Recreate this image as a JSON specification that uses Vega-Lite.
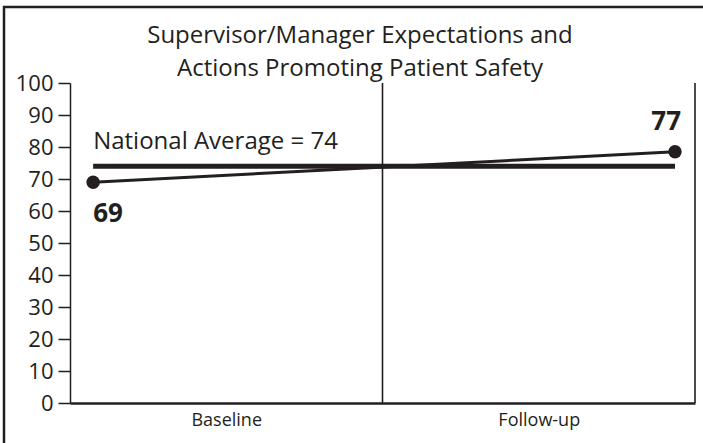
{
  "$schema": "https://vega.github.io/schema/vega-lite/v6.json",
  "width": 704,
  "height": 443,
  "autosize": {"type": "none"},
  "padding": {"left": 4, "top": 7, "right": -5, "bottom": -7},
  "background": "white",
  "config": {
    "view": {"stroke": "#231f20", "strokeWidth": 2.5},
    "font": "Open Sans",
    "text": {"font": "Open Sans", "color": "#231f20"}
  },
  "title": {
    "text": ["Supervisor/Manager Expectations and", "Actions Promoting Patient Safety"],
    "fontSize": 24,
    "fontWeight": "normal",
    "font": "Open Sans",
    "color": "#231f20",
    "lineHeight": 33,
    "anchor": "middle",
    "frame": "group",
    "dx": 4,
    "offset": -74
  },
  "datasets": {
    "rules": [
      {"x": 1, "y": 0, "y2": 100},
      {"x": 2, "y": 0, "y2": 100}
    ],
    "national": [
      {"x": 0.074, "y": 74, "label": "National Average = 74"},
      {"x": 1.936, "y": 74, "label": "National Average = 74"}
    ],
    "scores": [
      {"x": 0.074, "y": 69, "label": "69", "period": "Baseline"},
      {"x": 1.936, "y": 78.5, "label": "77", "period": "Follow-up"}
    ]
  },
  "layer": [
    {
      "data": {"name": "rules"},
      "mark": {"type": "rule", "color": "#231f20", "strokeWidth": 1.6},
      "encoding": {
        "x": {
          "field": "x", "type": "quantitative", "title": null,
          "scale": {"domain": [0, 2], "range": [66, 691]},
          "axis": {
            "orient": "bottom", "offset": -47, "values": [0.5, 1.5],
            "labelExpr": "datum.value < 1 ? 'Baseline' : 'Follow-up'",
            "ticks": false, "grid": false,
            "domainColor": "#231f20", "domainWidth": 2.5,
            "labelFont": "Open Sans", "labelFontSize": 18, "labelColor": "#231f20",
            "labelPadding": 8
          }
        },
        "y": {
          "field": "y", "type": "quantitative", "title": null,
          "scale": {"domain": [0, 100], "range": [396, 76]},
          "axis": {
            "orient": "left", "offset": -66,
            "values": [0, 10, 20, 30, 40, 50, 60, 70, 80, 90, 100],
            "grid": false, "tickSize": 12, "tickWidth": 1.5, "tickColor": "#231f20",
            "domainColor": "#231f20", "domainWidth": 1.5,
            "labelFont": "Open Sans", "labelFontSize": 22, "labelColor": "#231f20",
            "labelPadding": 5
          }
        },
        "y2": {"field": "y2"}
      }
    },
    {
      "data": {"name": "national"},
      "mark": {"type": "line", "color": "#231f20", "strokeWidth": 5},
      "encoding": {
        "x": {"field": "x", "type": "quantitative", "title": null},
        "y": {"field": "y", "type": "quantitative", "title": null}
      }
    },
    {
      "data": {"name": "national"},
      "transform": [{"filter": "datum.x < 1"}],
      "mark": {"type": "text", "align": "left", "baseline": "alphabetic", "dy": -17, "fontSize": 24},
      "encoding": {
        "x": {"field": "x", "type": "quantitative", "title": null},
        "y": {"field": "y", "type": "quantitative", "title": null},
        "text": {"field": "label"}
      }
    },
    {
      "data": {"name": "scores"},
      "mark": {"type": "line", "color": "#231f20", "strokeWidth": 3, "point": {"filled": true, "size": 180, "color": "#231f20", "opacity": 1}},
      "encoding": {
        "x": {"field": "x", "type": "quantitative", "title": null},
        "y": {"field": "y", "type": "quantitative", "title": null}
      }
    },
    {
      "data": {"name": "scores"},
      "transform": [{"filter": "datum.period == 'Baseline'"}],
      "mark": {"type": "text", "align": "left", "baseline": "alphabetic", "dy": 40, "fontSize": 26, "fontWeight": "bold"},
      "encoding": {
        "x": {"field": "x", "type": "quantitative", "title": null},
        "y": {"field": "y", "type": "quantitative", "title": null},
        "text": {"field": "label"}
      }
    },
    {
      "data": {"name": "scores"},
      "transform": [{"filter": "datum.period == 'Follow-up'"}],
      "mark": {"type": "text", "align": "right", "baseline": "alphabetic", "dx": 6, "dy": -22, "fontSize": 26, "fontWeight": "bold"},
      "encoding": {
        "x": {"field": "x", "type": "quantitative", "title": null},
        "y": {"field": "y", "type": "quantitative", "title": null},
        "text": {"field": "label"}
      }
    }
  ]
}
